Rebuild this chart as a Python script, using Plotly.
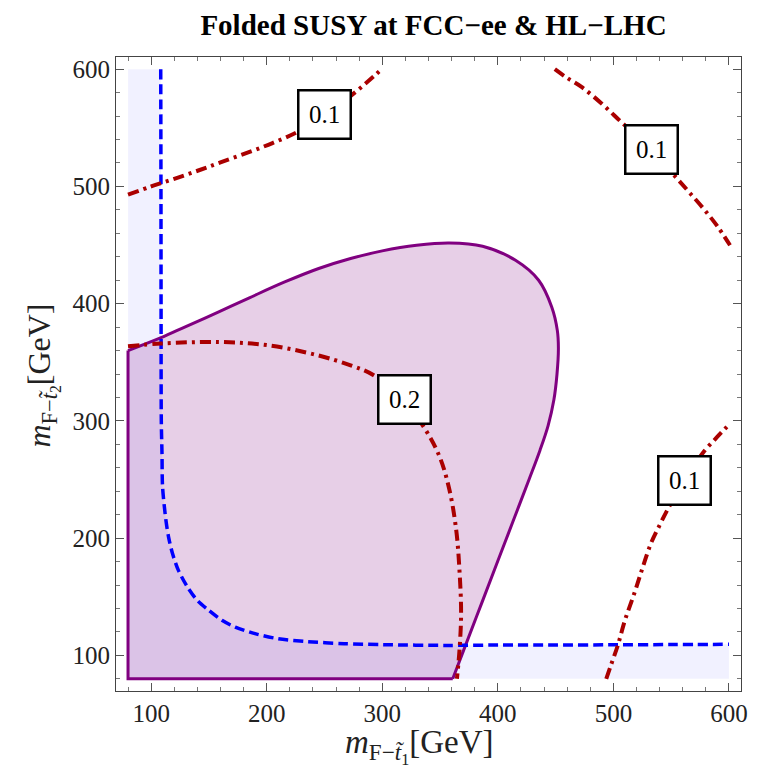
import plotly.graph_objects as go

# ---------------- data ----------------
x_range = [69.6, 610.4]
y_range = [69.6, 610.4]
region_lo = 80
region_hi = 600

# purple (allowed) region: curved boundary from the top-left corner to the bottom-right corner
purple_curve_x = [80, 108.6, 130, 158.5, 185, 215.6, 245, 272.6, 300, 329.7, 358, 386.8,
                  415.3, 435.3, 446.7, 451.5, 452.4, 451.2, 448.5, 443.5, 436.5, 427,
                  413.4, 399.8, 386.2, 372.6, 361]
purple_curve_y = [360, 371, 380.5, 393, 405, 418.5, 430, 438.5, 445, 449.8, 451.8, 449,
                  437, 420, 397, 377, 362, 340, 318, 296, 275, 250,
                  215, 180, 145, 110, 80]
purple_corner_x = [80]
purple_corner_y = [80]

# blue dashed boundary
blue_x = [108.3, 108.5, 108.6, 108.8, 109.4, 109.9, 112.8, 115.1, 118.5, 123.6, 131.4,
          139.9, 149.9, 161.3, 172.8, 189.9, 209.8, 232.7, 267, 301.2, 355.4, 400,
          450, 500, 550, 600]
blue_y = [600, 500, 400, 300, 272.1, 243.6, 215.2, 200.9, 186.8, 172.5, 158.3,
          146.9, 138.4, 129.9, 124.1, 118.5, 114.2, 111.9, 110, 109.1, 108.5, 108.8,
          108.8, 109, 109.2, 109.4]

# dark red contours
c02_x = [80, 108.6, 158.5, 201.3, 244, 272.6, 292.6, 318, 336.8, 349.7, 358.2, 364,
         366.8, 368.2, 366.8, 364.6]
c02_y = [363.7, 366, 367.3, 364.5, 356, 347.4, 338.9, 318, 293.4, 269.2, 240.8, 206.7,
         172.5, 135.6, 104.3, 80]

c01a_x = [80, 100, 120, 141.4, 160, 184, 205, 224.4, 240, 256, 273, 287, 300]
c01a_y = [493, 500, 506.5, 513.8, 520.5, 529, 537, 545.4, 554, 565, 577.5, 589, 600.5]

c01b_x = [449.3, 460, 472.4, 490, 506.7, 520, 532, 544, 555.1, 566.5, 578, 590, 600.9]
c01b_y = [600, 592.5, 584.9, 570.5, 555, 543, 531, 518.5, 506.7, 494, 481, 466, 449.8]

c01c_x = [493.8, 498, 503.8, 510, 518, 525, 532.4, 540, 548, 555, 561, 570, 578, 590, 600.9]
c01c_y = [80, 92, 108.5, 130, 152.6, 174, 195.3, 211, 226.5, 238, 249, 262, 273.5, 286.5, 297.7]

label_x = [249.7, 532.6, 319.0, 561.3]
label_y = [561.2, 531.3, 318.4, 249.3]
label_text = ["0.1", "0.1", "0.2", "0.1"]

x_ticks = [100, 200, 300, 400, 500, 600]
y_ticks = [100, 200, 300, 400, 500, 600]

SERIF = "Liberation Serif"
RED = "#AA0000"
PURPLE = "#800080"

fig = go.Figure()

# light blue region: left/below of the blue dashed curve
bfill_x = [region_lo, region_lo] + blue_x + [region_hi, region_lo]
bfill_y = [region_lo, region_hi] + blue_y + [region_lo, region_lo]
fig.add_trace(go.Scatter(x=bfill_x, y=bfill_y, mode="lines", fill="toself",
                         fillcolor="rgba(0,0,255,0.055)", line=dict(width=0),
                         hoverinfo="skip", showlegend=False))

# purple region fill
pfill_x = purple_curve_x + purple_corner_x + purple_curve_x[:1]
pfill_y = purple_curve_y + purple_corner_y + purple_curve_y[:1]
fig.add_trace(go.Scatter(x=pfill_x, y=pfill_y, mode="lines", fill="toself",
                         fillcolor="rgba(128,0,128,0.19)", line=dict(width=0),
                         hoverinfo="skip", showlegend=False))
# purple straight edges
fig.add_trace(go.Scatter(x=[purple_curve_x[-1]] + purple_corner_x + [purple_curve_x[0]],
                         y=[purple_curve_y[-1]] + purple_corner_y + [purple_curve_y[0]],
                         mode="lines", line=dict(color=PURPLE, width=3),
                         hoverinfo="skip", showlegend=False))
# purple curved edge
fig.add_trace(go.Scatter(x=purple_curve_x, y=purple_curve_y, mode="lines",
                         line=dict(color=PURPLE, width=3, shape="spline", smoothing=1),
                         hoverinfo="skip", showlegend=False))

# blue dashed curve
fig.add_trace(go.Scatter(x=blue_x, y=blue_y, mode="lines",
                         line=dict(color="#0000FF", width=3.5, dash="10px,5px",
                                   shape="spline", smoothing=0.8),
                         hoverinfo="skip", showlegend=False))

# red dash-dot contours
for cx, cy in [(c02_x, c02_y), (c01a_x, c01a_y), (c01b_x, c01b_y), (c01c_x, c01c_y)]:
    fig.add_trace(go.Scatter(x=cx, y=cy, mode="lines",
                             line=dict(color=RED, width=4, dash="11px,5px,3px,5px",
                                       shape="spline", smoothing=1),
                             hoverinfo="skip", showlegend=False))

# contour labels
for lx, ly, lt in zip(label_x, label_y, label_text):
    fig.add_annotation(x=lx, y=ly, xref="x", yref="y", text=lt, showarrow=False,
                       font=dict(family=SERIF, size=25, color="black"),
                       bgcolor="white", bordercolor="black", borderwidth=2.5,
                       borderpad=3, width=44, height=40)

axis_common = dict(
    showgrid=False, zeroline=False, showline=True, linecolor="#444444", linewidth=1.2,
    mirror="ticks", ticks="inside", ticklen=8, tickwidth=1, tickcolor="#555555",
    tickfont=dict(family=SERIF, size=25, color="#222222"),
    minor=dict(ticks="inside", ticklen=4, tickwidth=1, tickcolor="#777777", dtick=20, tick0=0),
)

fig.update_xaxes(range=x_range, tickvals=x_ticks, ticktext=[str(v) for v in x_ticks],
                 **axis_common)
fig.update_yaxes(range=y_range, tickvals=y_ticks, ticktext=[str(v) for v in y_ticks],
                 **axis_common)

# axis titles
fig.add_annotation(xref="paper", yref="paper", x=0.485, y=-0.087, showarrow=False,
                   xanchor="center", yanchor="middle",
                   text="<i>m</i><sub>F−<i>t̃</i><sub>1</sub></sub>[GeV]",
                   font=dict(family=SERIF, size=33, color="#222222"))
fig.add_annotation(xref="paper", yref="paper", x=-0.118, y=0.498, showarrow=False,
                   xanchor="center", yanchor="middle", textangle=-90,
                   text="<i>m</i><sub>F−<i>t̃</i><sub>2</sub></sub>[GeV]",
                   font=dict(family=SERIF, size=32, color="#222222"))

fig.update_layout(
    width=757, height=771,
    margin=dict(l=116, r=9, t=57, b=80),
    paper_bgcolor="white", plot_bgcolor="white",
    title=dict(text="<b>Folded SUSY at FCC−ee &amp; HL−LHC</b>", x=0.508, xref="paper",
               xanchor="center", y=0.968, yanchor="middle",
               font=dict(family=SERIF, size=29, color="black")),
)

fig.write_html("out.html")
